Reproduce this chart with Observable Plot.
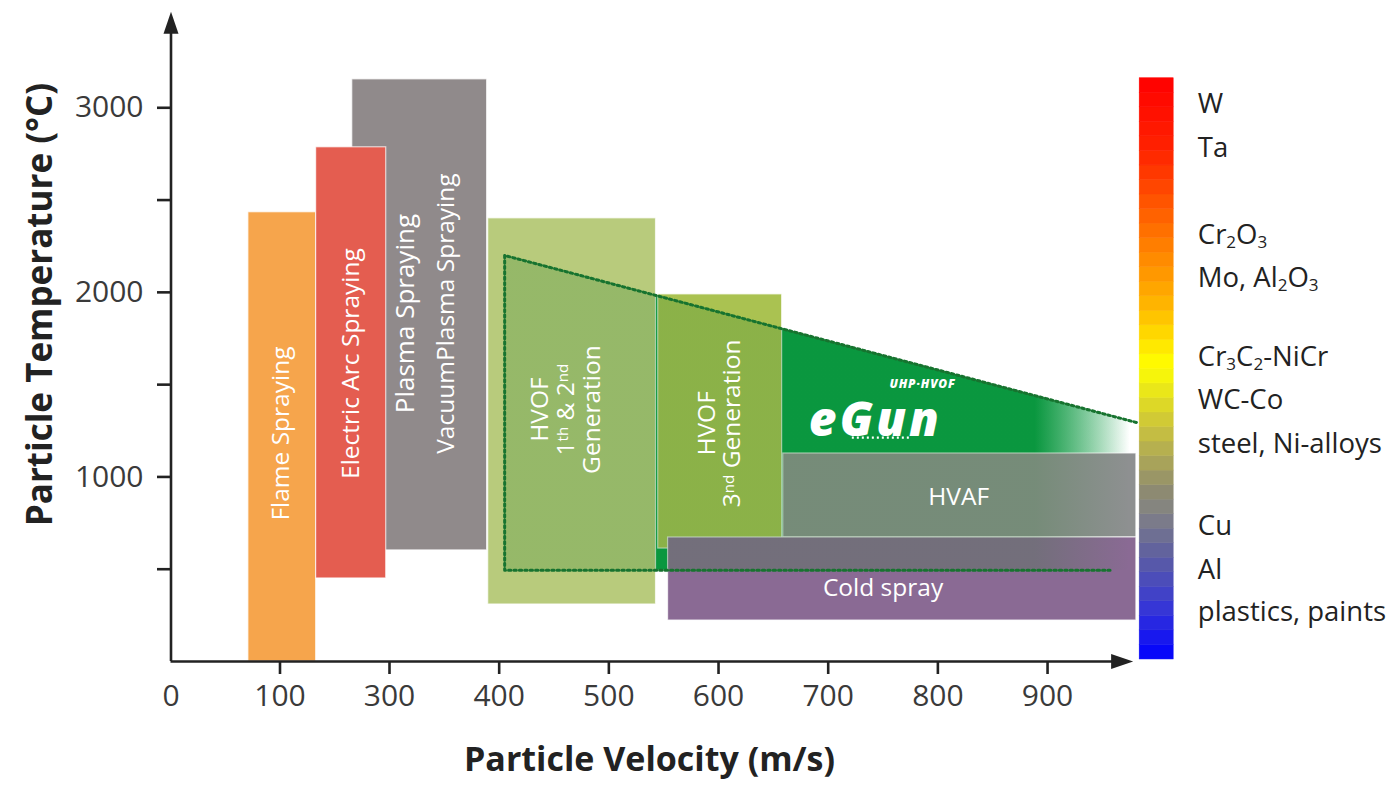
<!DOCTYPE html>
<html>
<head>
<meta charset="utf-8">
<script src="https://cdn.jsdelivr.net/npm/d3@7"></script>
<script src="https://cdn.jsdelivr.net/npm/@observablehq/plot@0.6"></script>
<style>
  html, body { margin: 0; padding: 0; background: #ffffff; }
  #chart svg { display: block; }
</style>
</head>
<body>
<div id="chart"></div>
<script>
// ---------------- DATA ----------------
// Spray processes (drawing order), velocity in m/s (as printed on the axis), temperature in °C
const processes = ["Flame Spraying", "Plasma Spraying", "Electric Arc Spraying", "HVOF 1st & 2nd Generation", "HVOF 3rd Generation", "HVAF", "Cold spray"];
const velMin  = [71, 232, 166, 390, 545, 659, 554];
const velMax  = [166, 389, 294, 543, 658, 981, 981];
const tempMin = [0, 602, 450, 309, 612, 672, 222];
const tempMax = [2434, 3154, 2786, 2401, 1989, 1127, 672];

// eGun UHP-HVOF envelope (dotted outline)
const envVel = [405, 981];
const envTop = [2200, 1295];
const envBottom = 495;
const envBottomEnd = 957;

// Labels inside the process boxes
const labelText = ["Flame Spraying", "Electric Arc Spraying", "Plasma Spraying", "VacuumPlasma Spraying",
  "HVOF\n1^{th} & 2^{nd}\nGeneration", "HVOF\n3^{nd} Generation", "HVAF", "Cold spray"];
const labelVel  = [102, 230, 315, 351.5, 461, 601, 819, 750];
const labelTemp = [1235, 1614, 1885, 1885, 1365, 1290, 888, 395];

// eGun logo
const logoText = ["eGun", "UHP·HVOF"];
const logoVel  = [743, 786];
const logoTemp = [1305, 1500];
const logoTrailVel = [722, 775];
const logoTrailTemp = 1213;

// Material scale on the right
const materials = ["W", "Ta", "Cr_{2}O_{3}", "Mo, Al_{2}O_{3}", "Cr_{3}C_{2}-NiCr", "WC-Co", "steel, Ni-alloys", "Cu", "Al", "plastics, paints"];
const materialTemp = [3020, 2780, 2310, 2075, 1650, 1415, 1180, 735, 495, 265];
const materialVel = 1037;

// Colour bar
const barVel = [984, 1015];
const barStopTemp  = [11, 276, 575, 813, 927, 1252, 1604, 1957, 2336, 2770, 3160];
const barStopColor = ["#0000ff", "#3535d8", "#5e5fa0", "#838383", "#8e8b70", "#c8c040", "#ffff00", "#ffb000", "#ff7000", "#ff2200", "#ff0000"];
const barBands = 40;

// Axes
const xTicks = [0, 100, 300, 400, 500, 600, 700, 800, 900];
const yTicks = [500, 1000, 1500, 2000, 2500, 3000];
const yLabelled = [1000, 2000, 3000];
const axisTop = 3461;
const axisRight = 968;
const xTitle = "Particle Velocity (m/s)";
const yTitle = "Particle Temperature (°C)";

// ---------------- STYLES ----------------
const processColors = ["#f6a54c", "#908a8b", "#e45d50", "#b8cb7c", "#aac251", "#8e9091", "#8a6a94"];
const labelRotate = [-90, -90, -90, -90, -90, -90, 0, 0];
const labelSize   = [24.5, 24.5, 26, 24.5, 24.5, 24.5, 24.5, 24.5];
const labelLine   = [1, 1, 1, 1, 1.06, 1.02, 1, 1];
const FONT = "'Open Sans', 'Noto Sans', sans-serif";
const INK = "#222222";
const TICK_INK = "#3a3a3a";

// ---------------- BUILD ----------------
const boxes = processes.map((name, i) => ({name, v1: velMin[i], v2: velMax[i], t1: tempMin[i], t2: tempMax[i], color: processColors[i]}));
const envelope = envVel.map((v, i) => ({v, top: envTop[i], bottom: envBottom}));
const outline = [
  {v: envVel[1], t: envTop[1]},
  {v: envVel[0], t: envTop[0]},
  {v: envVel[0], t: envBottom},
  {v: envBottomEnd, t: envBottom}
];
const barColor = d3.scaleLinear().domain(barStopTemp).range(barStopColor).interpolate(d3.interpolateRgb);
const t0 = barStopTemp[0], t1 = barStopTemp[barStopTemp.length - 1];
const bands = d3.range(barBands).map(i => {
  const a = t0 + (t1 - t0) * i / barBands, b = t0 + (t1 - t0) * (i + 1) / barBands;
  return {t1: a, t2: b, color: barColor((a + b) / 2)};
});
const arrows = [{v: 0, t: axisTop, r: 0}, {v: axisRight, t: 0, r: 90}];
const arrowHead = { draw(ctx) { ctx.moveTo(0, -11); ctx.lineTo(7.5, 11); ctx.lineTo(-7.5, 11); ctx.closePath(); } };

const defs = () => {
  const d = d3.create("svg:defs");
  const g1 = d.append("linearGradient").attr("id", "egunBase").attr("x1", 0).attr("x2", 1).attr("y1", 0).attr("y2", 0);
  g1.append("stop").attr("offset", 0.84).attr("stop-color", "#009f45").attr("stop-opacity", 1);
  g1.append("stop").attr("offset", 0.99).attr("stop-color", "#009f45").attr("stop-opacity", 0);
  const g2 = d.append("linearGradient").attr("id", "egunOverlay").attr("x1", 0).attr("x2", 1).attr("y1", 0).attr("y2", 0);
  g2.append("stop").attr("offset", 0.84).attr("stop-color", "#2a7e2c").attr("stop-opacity", 0.24);
  g2.append("stop").attr("offset", 0.99).attr("stop-color", "#2a7e2c").attr("stop-opacity", 0);
  return d.node();
};

const labelMarks = labelText.map((t, i) => Plot.text([i], {
  x: k => labelVel[k], y: k => labelTemp[k], text: k => labelText[k],
  rotate: labelRotate[i], textAnchor: "middle", fontSize: labelSize[i], lineHeight: labelLine[i],
  fill: "white", fontFamily: FONT, lineAnchor: "middle"
}));

const chart = Plot.plot({
  width: 1400,
  height: 786,
  marginLeft: 170,
  marginRight: 272,
  marginTop: 15,
  marginBottom: 125,
  style: {fontFamily: FONT, background: "#ffffff", color: INK},
  x: {type: "linear", domain: [0, 100, 300, 1100], range: [170.5, 279.5, 389, 1266.4]},
  y: {type: "linear", domain: [0, 3500], range: [661, 15]},
  color: {type: "identity"},
  marks: [
    defs,
    // eGun envelope underlay
    Plot.areaY(envelope, {x: "v", y1: "bottom", y2: "top", fill: "url(#egunBase)"}),
    // process boxes
    Plot.rect(boxes, {x1: "v1", x2: "v2", y1: "t1", y2: "t2", fill: "color", stroke: "#ffffff", strokeOpacity: 0.7, strokeWidth: 1.2}),
    // eGun envelope translucent overlay
    Plot.areaY(envelope, {x: "v", y1: "bottom", y2: "top", fill: "url(#egunOverlay)"}),
    // dotted outline
    Plot.line(outline, {x: "v", y: "t", stroke: "#17732f", strokeWidth: 3, strokeDasharray: "2.4 3", curve: "linear"}),
    ...labelMarks,
    // eGun logo
    Plot.text([0], {x: logoVel[0], y: logoTemp[0], text: [logoText[0]], fill: "white", fontSize: 48, fontWeight: 800, fontStyle: "italic", fontFamily: FONT + " ", lineAnchor: "middle"}),
    Plot.text([1], {x: logoVel[1], y: logoTemp[1], text: [logoText[1]], fill: "white", fontSize: 12, fontWeight: 800, fontStyle: "italic", fontFamily: FONT + "  ", lineAnchor: "middle"}),
    Plot.ruleY([logoTrailTemp], {x1: logoTrailVel[0], x2: logoTrailVel[1], stroke: "white", strokeWidth: 2.2, strokeDasharray: "2 3"}),
    // colour bar
    Plot.rect(bands, {x1: barVel[0], x2: barVel[1], y1: "t1", y2: "t2", fill: "color", stroke: "color", strokeWidth: 0.5}),
    Plot.text(materials, {x: materialVel, y: (d, i) => materialTemp[i], text: d => d, textAnchor: "start", fontSize: 27.5, fill: INK, fontFamily: FONT}),
    // axes
    Plot.ruleX([0], {y1: 0, y2: axisTop, stroke: INK, strokeWidth: 2.6}),
    Plot.ruleY([0], {x1: 0, x2: axisRight, stroke: INK, strokeWidth: 2.6}),
    Plot.dot(arrows, {x: "v", y: "t", rotate: "r", symbol: arrowHead, fill: INK, stroke: null, r: 5}),
    Plot.axisY(yTicks, {anchor: "left", tickSize: 13, tickPadding: 14, strokeWidth: 2.6, stroke: INK, fill: TICK_INK, fontSize: 30, label: null,
      tickFormat: d => yLabelled.includes(d) ? String(d) : ""}),
    Plot.axisX(xTicks.filter(d => d > 0), {anchor: "bottom", tickSize: 13, tickPadding: 10, strokeWidth: 2.6, stroke: INK, fill: TICK_INK, fontSize: 30, label: null,
      tickFormat: d => String(d)}),
    Plot.axisX(xTicks.filter(d => d === 0), {anchor: "bottom", tickSize: 0, tickPadding: 23, fill: TICK_INK, fontSize: 30, label: null,
      tickFormat: d => String(d)}),
    // titles
    Plot.text([xTitle], {frameAnchor: "bottom", dy: 99, textAnchor: "middle", lineAnchor: "middle", text: d => d, fontSize: 34, fontWeight: 700, fill: INK, fontFamily: FONT}),
    Plot.text([yTitle], {frameAnchor: "left", dx: -130, dy: -34, rotate: -90, textAnchor: "middle", lineAnchor: "middle", text: d => d, fontSize: 35, fontWeight: 700, fill: INK, fontFamily: FONT})
  ]
});

// sub/superscript markup: _{..} and ^{..}
function applyMarkup(root) {
  const NS = "http://www.w3.org/2000/svg";
  const nodes = Array.from(root.querySelectorAll("text, tspan"));
  for (const node of nodes) {
    if (node.children.length) continue;
    const s = node.textContent;
    if (!/[_^]\{/.test(s)) continue;
    node.textContent = "";
    const re = /([_^])\{([^}]*)\}/g;
    let last = 0, m;
    const add = (txt, kind) => {
      const t = document.createElementNS(NS, "tspan");
      t.textContent = txt;
      if (kind) {
        t.setAttribute("baseline-shift", kind === "_" ? "-25%" : "40%");
        t.style.fontSize = "0.62em";
      }
      node.appendChild(t);
    };
    while ((m = re.exec(s))) {
      if (m.index > last) add(s.slice(last, m.index));
      add(m[2], m[1]);
      last = re.lastIndex;
    }
    if (last < s.length) add(s.slice(last));
  }
}
applyMarkup(chart);
// letter spacing for the logo
chart.querySelectorAll("[font-family]").forEach(el => {
  const f = el.getAttribute("font-family");
  if (f === FONT + " ") el.style.letterSpacing = "3px";
  if (f === FONT + "  ") el.style.letterSpacing = "0.8px";
});
document.getElementById("chart").appendChild(chart);
</script>
</body>
</html>
